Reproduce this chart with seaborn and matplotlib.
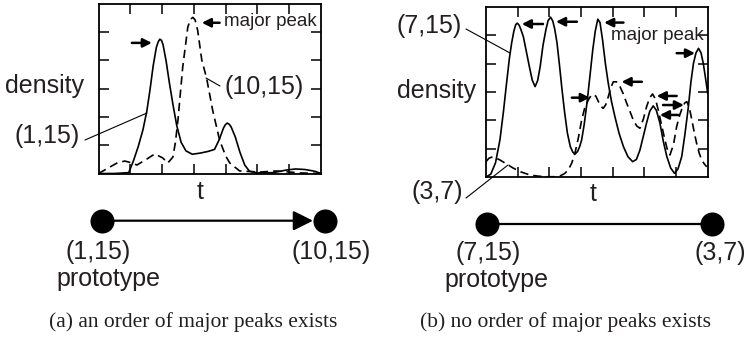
import matplotlib
matplotlib.use("Agg")
import numpy as np
import pandas as pd
import seaborn as sns
import matplotlib.pyplot as plt

# ---------------- data ----------------
# panel (a): solid curve (1,15)
a_solid_t = [0, 0.5, 0.95, 1.10, 1.25, 1.40, 1.52, 1.62, 1.72, 1.82, 1.88, 1.93, 1.98, 2.03,
             2.13, 2.23, 2.34, 2.46, 2.60, 2.75, 2.95, 3.20, 3.45, 3.65, 3.80, 3.93, 3.99,
             4.05, 4.11, 4.17, 4.30, 4.45, 4.60, 4.75, 5.0, 5.5, 5.9, 6.2, 6.5, 6.8, 7.0]
a_solid_y = [0, 0, 0.03, 0.45, 0.95, 1.55, 2.2, 2.95, 3.8, 4.45, 4.65, 4.74, 4.70, 4.55,
             3.95, 3.2, 2.45, 1.7, 1.1, 0.8, 0.68, 0.72, 0.78, 0.85, 1.2, 1.6, 1.72,
             1.78, 1.74, 1.65, 1.3, 0.75, 0.3, 0.08, 0.02, 0.03, 0.12, 0.16, 0.14, 0.08, 0.0]
# panel (a): dashed curve (10,15)
a_dash_t = [0, 0.36, 0.60, 0.83, 1.02, 1.21, 1.52, 1.77, 2.02, 2.18, 2.34, 2.42, 2.50, 2.65,
            2.81, 2.90, 2.97, 3.04, 3.12, 3.25, 3.40, 3.59, 3.81, 4.00, 4.13, 4.44, 5.07,
            5.60, 6.33, 7.0]
a_dash_y = [0, 0.23, 0.38, 0.44, 0.38, 0.30, 0.51, 0.69, 0.55, 0.37, 0.58, 1.10, 1.89, 3.76,
            5.17, 5.45, 5.51, 5.42, 5.05, 4.0, 3.37, 2.24, 1.18, 0.62, 0.37, 0.09, 0.05,
            0.09, 0.02, 0.0]

# panel (b): solid curve (7,15)
b_solid_t = [0, 0.15, 0.30, 0.44, 0.55, 0.65, 0.74, 0.81, 0.88, 0.94, 0.99, 1.05, 1.11, 1.18,
             1.27, 1.37, 1.46, 1.55, 1.63, 1.71, 1.80, 1.89, 1.96, 2.04, 2.11, 2.17, 2.24,
             2.32, 2.39, 2.48, 2.57, 2.66, 2.74, 2.81, 2.89, 2.96, 3.02, 3.10, 3.20, 3.29,
             3.37, 3.45, 3.53, 3.60, 3.68, 3.77, 3.86, 3.96, 4.07, 4.20, 4.34, 4.48, 4.63,
             4.75, 4.86, 4.97, 5.07, 5.17, 5.28, 5.38, 5.49, 5.60, 5.71, 5.83, 5.95, 6.06,
             6.18, 6.28, 6.39, 6.47, 6.55, 6.63, 6.71, 6.79, 6.86, 6.93, 7.0]
b_solid_y = [0, 0.10, 0.50, 1.31, 2.30, 3.32, 4.20, 4.73, 5.15, 5.38, 5.43, 5.35, 5.18, 4.95,
             4.45, 3.89, 3.42, 3.19, 3.40, 3.89, 4.65, 5.19, 5.52, 5.64, 5.50, 5.22, 4.75,
             3.95, 3.19, 2.30, 1.55, 1.08, 0.88, 0.81, 0.90, 1.08, 1.31, 1.85, 2.72, 3.65,
             4.48, 5.15, 5.57, 5.45, 4.84, 4.00, 3.31, 2.68, 2.13, 1.55, 1.07, 0.72, 0.54,
             0.62, 0.95, 1.45, 1.91, 2.32, 2.51, 2.35, 1.91, 1.25, 0.72, 0.32, 0.13, 0.28,
             0.72, 1.50, 2.48, 3.35, 4.01, 4.38, 4.54, 4.38, 4.01, 3.50, 2.95]
# panel (b): dashed curve (3,7)
b_dash_t = [0, 0.09, 0.18, 0.30, 0.44, 0.65, 0.85, 1.10, 1.39, 1.65, 1.92, 2.15, 2.34, 2.48,
            2.60, 2.71, 2.81, 2.92, 3.02, 3.12, 3.23, 3.31, 3.39, 3.47, 3.55, 3.63, 3.70,
            3.78, 3.86, 3.94, 4.02, 4.12, 4.23, 4.34, 4.44, 4.55, 4.65, 4.76, 4.86, 4.97,
            5.07, 5.17, 5.26, 5.35, 5.44, 5.55, 5.65, 5.73, 5.81, 5.92, 6.02, 6.12, 6.21,
            6.28, 6.34, 6.42, 6.50, 6.58, 6.65, 6.73, 6.81, 6.90, 6.97]
b_dash_y = [0.54, 0.66, 0.70, 0.68, 0.60, 0.46, 0.32, 0.18, 0.07, 0.03, 0.01, 0.01, 0.04, 0.12,
            0.25, 0.50, 0.85, 1.40, 2.01, 2.45, 2.72, 2.86, 2.92, 2.85, 2.66, 2.50, 2.42,
            2.55, 2.83, 3.15, 3.36, 3.36, 3.19, 2.92, 2.61, 2.30, 2.01, 1.80, 1.72, 2.05,
            2.48, 2.80, 2.93, 2.75, 2.36, 1.80, 1.31, 0.95, 0.78, 1.15, 1.78, 2.20, 2.48,
            2.62, 2.66, 2.45, 2.01, 1.55, 1.19, 0.85, 0.60, 0.45, 0.36]

# peak-marker arrows: (tail_t, head_t, density)
a_arrows = [(1.05, 1.68, 4.61), (3.81, 3.25, 5.32)]
b_arrows = [(1.80, 1.13, 5.40), (2.87, 2.21, 5.48), (4.34, 3.73, 5.45), (6.02, 6.60, 4.37),
            (2.71, 3.28, 2.80), (4.92, 4.28, 3.36), (6.02, 5.39, 2.86), (5.59, 6.25, 2.54),
            (6.07, 5.49, 2.19)]

x_ticks = [1, 2, 3, 4, 5, 6]
y_ticks = [1, 2, 3, 4, 5]

# ---------------- style ----------------
sns.set_theme(style="ticks")
plt.rcParams['font.family'] = ['Liberation Sans', 'DejaVu Sans']
INK = "#231f20"

W, H = 747, 342
fig = plt.figure(figsize=(W / 100, H / 100), dpi=100)


def rect(l, t, r, b):
    return [l / W, 1 - b / H, (r - l) / W, (b - t) / H]


axA = fig.add_axes(rect(98.5, 3.5, 321, 173.5))
axB = fig.add_axes(rect(486, 7, 707.7, 177))

df_a1 = pd.DataFrame({"t": a_solid_t, "density": a_solid_y})
df_a2 = pd.DataFrame({"t": a_dash_t, "density": a_dash_y})
df_b1 = pd.DataFrame({"t": b_solid_t, "density": b_solid_y})
df_b2 = pd.DataFrame({"t": b_dash_t, "density": b_dash_y})

sns.lineplot(data=df_a1, x="t", y="density", ax=axA, color="black", lw=1.2, sort=False)
sns.lineplot(data=df_a2, x="t", y="density", ax=axA, color="black", lw=1.2, sort=False,
             linestyle=(0, (5, 3)))
sns.lineplot(data=df_b1, x="t", y="density", ax=axB, color="black", lw=1.2, sort=False)
sns.lineplot(data=df_b2, x="t", y="density", ax=axB, color="black", lw=1.2, sort=False,
             linestyle=(0, (5, 3)))

for ax in (axA, axB):
    ax.set_xlim(0, 7)
    ax.set_ylim(0, 6)
    ax.set_xticks(x_ticks)
    ax.set_yticks(y_ticks)
    ax.tick_params(direction="in", length=7, width=1.1, top=True, right=True,
                   labelbottom=False, labelleft=False, color="black")
    for s in ax.spines.values():
        s.set_linewidth(1.3)
        s.set_color("black")
    ax.set_xlabel("")
    ax.set_ylabel("")

for ax, arrows in ((axA, a_arrows), (axB, b_arrows)):
    for tail, head, yv in arrows:
        ax.annotate("", xy=(head, yv), xytext=(tail, yv),
                    arrowprops=dict(arrowstyle="-|>", color="black", lw=1.8,
                                    mutation_scale=13, shrinkA=0, shrinkB=0),
                    annotation_clip=False)

# ---------------- overlay (pixel coordinates) ----------------
ov = fig.add_axes([0, 0, 1, 1])
ov.set_xlim(0, W)
ov.set_ylim(H, 0)
ov.axis("off")
ov.patch.set_alpha(0)

FS = 18


def label(x, y, s, size=FS, **kw):
    ov.text(x, y, s, ha="center", va="center", fontsize=size, color=INK, **kw)


def leader(p0, p1):
    ov.plot([p0[0], p1[0]], [p0[1], p1[1]], color="black", lw=0.8)


# panel (a) labels
label(44, 86, "density")
label(47.5, 136, "(1,15)")
leader((85, 140), (147, 113))
label(264, 87, "(10,15)")
leader((220, 86), (206, 78))
label(270, 21, "major peak", size=13.5)
label(200, 192, "t")

# panel (b) labels
label(429, 26, "(7,15)")
leader((466, 29), (510, 53))
label(436, 91, "density")
label(657, 35, "major peak", size=13.5)
label(437.5, 192, "(3,7)")
leader((466, 198), (508, 165))
label(593, 194, "t")

# graph nodes
ov.annotate("", xy=(313, 220.7), xytext=(101.7, 220.7),
            arrowprops=dict(arrowstyle="-|>", color="black", lw=1.6,
                            mutation_scale=30, shrinkA=0, shrinkB=0))
ov.plot([487, 712], [224, 224], color="black", lw=1.6)
ov.scatter([101.7, 325, 487, 712], [220.7, 220.7, 224, 224], s=300, color="black",
           zorder=5, linewidths=0)

label(98, 252, "(1,15)")
label(331, 252, "(10,15)")
label(108, 279, "prototype")
label(488.5, 253, "(7,15)")
label(720, 253, "(3,7)")
label(496, 280, "prototype")

# captions
ov.text(193.5, 322, "(a) an order of major peaks exists", ha="center", va="center",
        fontsize=15.5, color=INK, family=["Liberation Serif", "DejaVu Serif"])
ov.text(565, 322, "(b) no order of major peaks exists", ha="center", va="center",
        fontsize=15.5, color=INK, family=["Liberation Serif", "DejaVu Serif"])

fig.savefig("out.png", dpi=100)
